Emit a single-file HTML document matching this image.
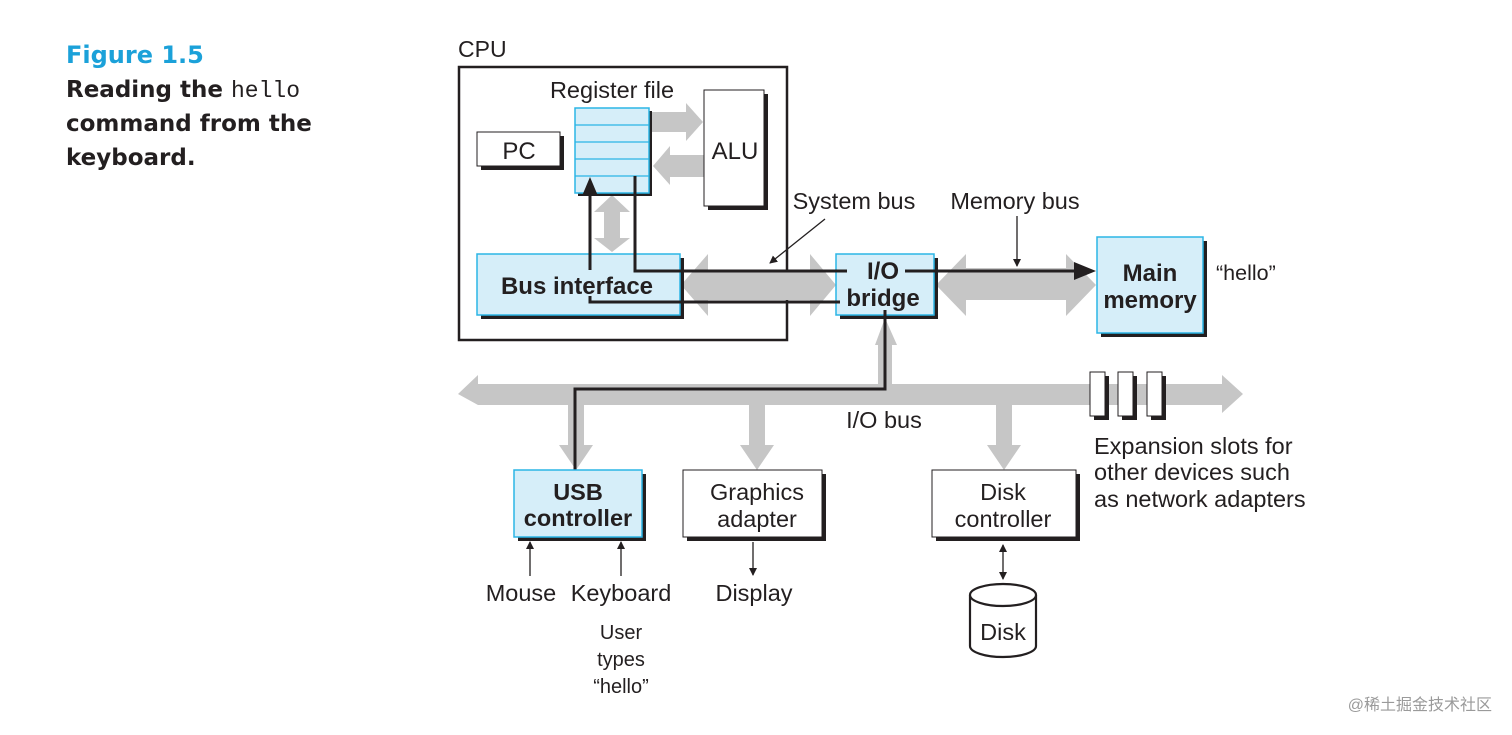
<!DOCTYPE html>
<html><head><meta charset="utf-8"><style>
html,body{margin:0;padding:0;background:#fff;}
svg{display:block;}
text{font-family:"Liberation Sans",sans-serif;fill:#231f20;}
.b{font-weight:bold;}
.cap{font-family:"DejaVu Sans","Liberation Sans",sans-serif;font-weight:bold;font-size:23px;}
</style></head><body>
<svg width="1512" height="735" viewBox="0 0 1512 735" xmlns="http://www.w3.org/2000/svg">
<defs>
<marker id="ahs" markerWidth="8" markerHeight="8" refX="7" refY="4" orient="auto-start-reverse" markerUnits="userSpaceOnUse"><path d="M0,0 L8,4 L0,8 z" fill="#231f20"/></marker>
</defs>
<text x="66" y="63" class="cap" style="fill:#1ba1d9;font-size:24px">Figure 1.5</text>
<text x="66" y="97" class="cap">Reading the <tspan style="font-family:'Liberation Mono',monospace;font-weight:normal">hello</tspan></text>
<text x="66" y="131" class="cap">command from the</text>
<text x="66" y="165" class="cap">keyboard.</text>

<text x="458" y="57" font-size="23">CPU</text>
<rect x="459" y="67" width="328" height="273" fill="none" stroke="#231f20" stroke-width="2.5"/>
<text x="612" y="98" font-size="23.5" text-anchor="middle">Register file</text>
<polygon points="652,112 686,112 686,103 703,122 686,141 686,132 652,132" fill="#c6c6c6"/>
<polygon points="704,155 670,155 670,146 653,166 670,185 670,177 704,177" fill="#c6c6c6"/>
<polygon points="612,195 630,212 620,212 620,238 630,238 612,252 594,238 604,238 604,212 594,212" fill="#c6c6c6"/>
<rect x="481" y="136" width="83" height="34" fill="#231f20"/>
<rect x="477" y="132" width="83" height="34" fill="#fff" stroke="#231f20" stroke-width="1"/>
<text x="519" y="159" font-size="24" text-anchor="middle">PC</text>
<rect x="578" y="111" width="74" height="85" fill="#231f20"/>
<rect x="575" y="108" width="74" height="85" fill="#d6eef9" stroke="#2bb5e6" stroke-width="1.5"/>
<g stroke="#2bb5e6" stroke-width="1.3"><line x1="575" y1="125" x2="649" y2="125"/><line x1="575" y1="142" x2="649" y2="142"/><line x1="575" y1="159" x2="649" y2="159"/><line x1="575" y1="176" x2="649" y2="176"/></g>
<rect x="708" y="94" width="60" height="116" fill="#231f20"/>
<rect x="704" y="90" width="60" height="116" fill="#fff" stroke="#231f20" stroke-width="1"/>
<text x="735" y="159" font-size="24" text-anchor="middle">ALU</text>
<polygon points="681,285 708,254 708,270 810,270 810,254 836,285 810,316 810,300 708,300 708,316" fill="#c6c6c6"/>
<polygon points="936,285 966,254 966,268 1066,268 1066,254 1096,285 1066,316 1066,300 966,300 966,316" fill="#c6c6c6"/>
<rect x="481" y="258" width="203" height="61" fill="#231f20"/>
<rect x="477" y="254" width="203" height="61" fill="#d6eef9" stroke="#2bb5e6" stroke-width="1.5"/>
<rect x="840" y="258" width="98" height="61" fill="#231f20"/>
<rect x="836" y="254" width="98" height="61" fill="#d6eef9" stroke="#2bb5e6" stroke-width="1.5"/>
<rect x="1101" y="241" width="106" height="96" fill="#231f20"/>
<rect x="1097" y="237" width="106" height="96" fill="#d6eef9" stroke="#2bb5e6" stroke-width="1.5"/>
<text x="1150" y="281" font-size="24" class="b" text-anchor="middle">Main</text>
<text x="1150" y="308" font-size="24" class="b" text-anchor="middle">memory</text>
<text x="1216" y="280" font-size="21.5">“hello”</text>

<polygon points="458,394 478,375 478,384 1222,384 1222,375 1243,394 1222,413 1222,405 478,405" fill="#c6c6c6"/>
<polygon points="875,345 885,318 897,345 892,345 892,385 878,385 878,345" fill="#c6c6c6"/>
<polygon points="568,404 584,404 584,445 593,445 576,470 559,445 568,445" fill="#c6c6c6"/>
<polygon points="749,404 765,404 765,445 774,445 757,470 740,445 749,445" fill="#c6c6c6"/>
<polygon points="996,404 1012,404 1012,445 1021,445 1004,470 987,445 996,445" fill="#c6c6c6"/>
<g fill="#231f20"><rect x="1094" y="376" width="15" height="44"/><rect x="1122" y="376" width="15" height="44"/><rect x="1151" y="376" width="15" height="44"/></g>
<g fill="#fff" stroke="#231f20" stroke-width="1"><rect x="1090" y="372" width="15" height="44"/><rect x="1118" y="372" width="15" height="44"/><rect x="1147" y="372" width="15" height="44"/></g>
<text x="884" y="428" font-size="23.5" text-anchor="middle">I/O bus</text>
<text x="1094" y="454" font-size="23.5">Expansion slots for</text>
<text x="1094" y="480" font-size="23.5">other devices such</text>
<text x="1094" y="507" font-size="23.5">as network adapters</text>

<g stroke="#231f20" stroke-width="3" fill="none">
<line x1="590" y1="270" x2="590" y2="192"/>
<polyline points="635,176 635,271 847,271"/>
<line x1="905" y1="271" x2="1080" y2="271"/>
<polyline points="590,296 590,302 840,302"/>
<polyline points="885,310 885,389 575,389 575,476"/>
<line x1="597" y1="504" x2="601" y2="511"/>
<line x1="614" y1="532" x2="621" y2="540"/>
</g>
<polygon points="590,177 598,196 582,196" fill="#231f20"/>
<polygon points="1096,271 1074,262 1074,280" fill="#231f20"/>
<text x="577" y="294" font-size="24" class="b" text-anchor="middle">Bus interface</text>
<text x="883" y="279" font-size="24" class="b" text-anchor="middle">I/O</text>
<text x="883" y="306" font-size="24" class="b" text-anchor="middle">bridge</text>

<text x="854" y="209" font-size="23.5" text-anchor="middle">System bus</text>
<line x1="825" y1="219" x2="770" y2="263" stroke="#231f20" stroke-width="1.3" marker-end="url(#ahs)"/>
<text x="1015" y="209" font-size="23.5" text-anchor="middle">Memory bus</text>
<line x1="1017" y1="216" x2="1017" y2="266" stroke="#231f20" stroke-width="1.3" marker-end="url(#ahs)"/>

<rect x="518" y="474" width="128" height="67" fill="#231f20"/>
<rect x="514" y="470" width="128" height="67" fill="#d6eef9" stroke="#2bb5e6" stroke-width="1.5"/>
<text x="578" y="500" font-size="23.5" class="b" text-anchor="middle">USB</text>
<text x="578" y="526" font-size="23.5" class="b" text-anchor="middle">controller</text>
<rect x="687" y="474" width="139" height="67" fill="#231f20"/>
<rect x="683" y="470" width="139" height="67" fill="#fff" stroke="#231f20" stroke-width="1"/>
<text x="757" y="500" font-size="23.5" text-anchor="middle">Graphics</text>
<text x="757" y="527" font-size="23.5" text-anchor="middle">adapter</text>
<rect x="936" y="474" width="144" height="67" fill="#231f20"/>
<rect x="932" y="470" width="144" height="67" fill="#fff" stroke="#231f20" stroke-width="1"/>
<text x="1003" y="500" font-size="23.5" text-anchor="middle">Disk</text>
<text x="1003" y="527" font-size="23.5" text-anchor="middle">controller</text>

<g stroke="#231f20" stroke-width="1.3">
<line x1="530" y1="576" x2="530" y2="542" marker-end="url(#ahs)"/>
<line x1="621" y1="576" x2="621" y2="542" marker-end="url(#ahs)"/>
<line x1="753" y1="542" x2="753" y2="575" marker-end="url(#ahs)"/>
<line x1="1003" y1="545" x2="1003" y2="579" marker-end="url(#ahs)" marker-start="url(#ahs)"/>
</g>
<text x="521" y="601" font-size="23.5" text-anchor="middle">Mouse</text>
<text x="621" y="601" font-size="23.5" text-anchor="middle">Keyboard</text>
<text x="754" y="601" font-size="23.5" text-anchor="middle">Display</text>
<text x="621" y="639" font-size="20" text-anchor="middle">User</text>
<text x="621" y="666" font-size="20" text-anchor="middle">types</text>
<text x="621" y="693" font-size="20" text-anchor="middle">“hello”</text>
<g stroke="#231f20" stroke-width="2.2" fill="#fff">
<path d="M970,595 L970,646 A33,11 0 0 0 1036,646 L1036,595"/>
<ellipse cx="1003" cy="595" rx="33" ry="11"/>
</g>
<text x="1003" y="640" font-size="23.5" text-anchor="middle">Disk</text>

<text x="1492" y="710" font-size="16" text-anchor="end" style="fill:#9a9a9a;font-family:'Liberation Sans','Noto Sans CJK SC',sans-serif">@稀土掘金技术社区</text>
</svg>
</body></html>
